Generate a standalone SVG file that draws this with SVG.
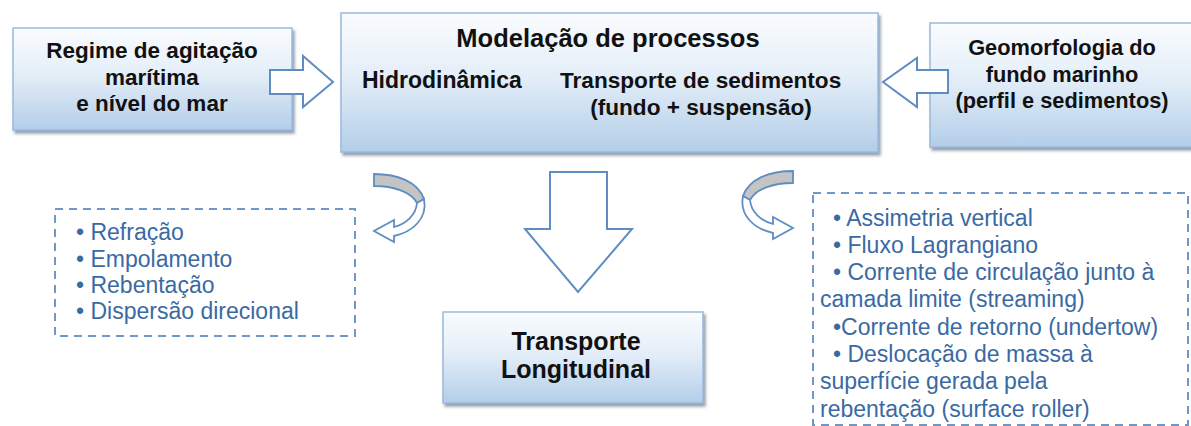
<svg xmlns="http://www.w3.org/2000/svg" width="1191" height="426" viewBox="0 0 1191 426">
  <defs>
    <linearGradient id="boxGrad" x1="0" y1="0" x2="0" y2="1">
      <stop offset="0" stop-color="#fafcfe"/>
      <stop offset="0.45" stop-color="#e4eef8"/>
      <stop offset="1" stop-color="#b3cee9"/>
    </linearGradient>
    <filter id="shadow" x="-5%" y="-5%" width="115%" height="120%">
      <feGaussianBlur in="SourceAlpha" stdDeviation="1.5"/>
      <feOffset dx="2" dy="3" result="b"/>
      <feFlood flood-color="#6f8194" flood-opacity="0.75"/>
      <feComposite in2="b" operator="in"/>
      <feMerge><feMergeNode/><feMergeNode in="SourceGraphic"/></feMerge>
    </filter>
  </defs>
  <style>
    .box { fill: url(#boxGrad); stroke: #9bb9db; stroke-width: 1.5; filter: url(#shadow); }
    .dash { fill: none; stroke: #6f97c8; stroke-width: 2; stroke-dasharray: 8 6; }
    .blk { fill: #ffffff; stroke: #5f8dc3; stroke-width: 2; stroke-linejoin: miter; }
    .grey { fill: #c4c4c4; stroke: #5f8dc3; stroke-width: 1.8; }
    .wht { fill: #ffffff; stroke: #5f8dc3; stroke-width: 1.8; }
    .bt { font-family: "Liberation Sans", Arial, sans-serif; font-weight: bold; fill: #111111; }
    .lt { font-family: "Liberation Sans", Arial, sans-serif; fill: #3a6aa3; font-size: 23px; }
  </style>

  <g id="node-regime">
    <rect class="box" x="13" y="28" width="279" height="102"/>
    <text class="bt" font-size="22.5" text-anchor="middle" x="152" y="58">Regime de agitação</text>
    <text class="bt" font-size="22.5" text-anchor="middle" x="152" y="85">marítima</text>
    <text class="bt" font-size="22.5" text-anchor="middle" x="152" y="111">e nível do mar</text>
  </g>

  <g id="node-geomorfologia">
    <rect class="box" x="930" y="23" width="270" height="124"/>
    <text class="bt" font-size="21.8" text-anchor="middle" x="1062" y="55">Geomorfologia do</text>
    <text class="bt" font-size="21.8" text-anchor="middle" x="1062" y="82">fundo marinho</text>
    <text class="bt" font-size="21.8" text-anchor="middle" x="1062" y="108">(perfil e sedimentos)</text>
  </g>

  <g id="node-modelacao">
    <rect class="box" x="341" y="13" width="537" height="139"/>
    <text class="bt" font-size="25.5" text-anchor="middle" x="608" y="47">Modelação de processos</text>
    <text class="bt" font-size="23" x="362" y="88">Hidrodinâmica</text>
    <text class="bt" font-size="22.6" x="560" y="88">Transporte de sedimentos</text>
    <text class="bt" font-size="22.6" text-anchor="middle" x="701" y="115">(fundo + suspensão)</text>
  </g>

  <g id="node-transporte">
    <rect class="box" x="443" y="312" width="260" height="91"/>
    <text class="bt" font-size="25" text-anchor="middle" x="576" y="350">Transporte</text>
    <text class="bt" font-size="25" text-anchor="middle" x="576" y="378">Longitudinal</text>
  </g>

  <g id="node-processos-onda">
    <rect class="dash" x="55" y="209" width="300" height="127"/>
    <text class="lt" x="76" y="240">• Refração</text>
    <text class="lt" x="76" y="267">• Empolamento</text>
    <text class="lt" x="76" y="293">• Rebentação</text>
    <text class="lt" x="76" y="319">• Dispersão direcional</text>
  </g>

  <g id="node-processos-transversais">
    <rect class="dash" x="813" y="193" width="375" height="232"/>
    <text class="lt" x="833" y="226">•  Assimetria vertical</text>
    <text class="lt" x="833" y="253">• Fluxo Lagrangiano</text>
    <text class="lt" x="833" y="280">• Corrente de circulação junto à</text>
    <text class="lt" x="820" y="307">camada limite (streaming)</text>
    <text class="lt" x="833" y="335">•Corrente de retorno (undertow)</text>
    <text class="lt" x="833" y="362">• Deslocação de massa à</text>
    <text class="lt" x="820" y="389">superfície gerada pela</text>
    <text class="lt" x="820" y="417">rebentação (surface roller)</text>
  </g>

  <g id="connectors">
    <polygon class="blk" points="270,70 303,70 303,56 333,82 303,107 303,94 270,94"/>
    <polygon class="blk" points="948,70 917,70 917,58 883,82 917,107 917,93 948,93"/>
    <polygon class="blk" points="550,172 607,172 607,229 632,229 578,292 525,229 550,229"/>
    <g id="curved-left">
      <path class="grey" d="M 374,174 C 398,174 418,182 424,199 L 417,203 C 411,192 394,186 374,186 Z"/>
      <path class="wht" d="M 424,199 C 428,219 412,232 394,236 L 394,242 L 374,231 L 394,220 L 394,227 C 406,224 416,215 417,203 Z"/>
    </g>
    <g id="curved-right" transform="translate(1167,-3) scale(-1,1)">
      <path class="grey" d="M 374,174 C 398,174 418,182 424,199 L 417,203 C 411,192 394,186 374,186 Z"/>
      <path class="wht" d="M 424,199 C 428,219 412,232 394,236 L 394,242 L 374,231 L 394,220 L 394,227 C 406,224 416,215 417,203 Z"/>
    </g>
  </g>
</svg>
